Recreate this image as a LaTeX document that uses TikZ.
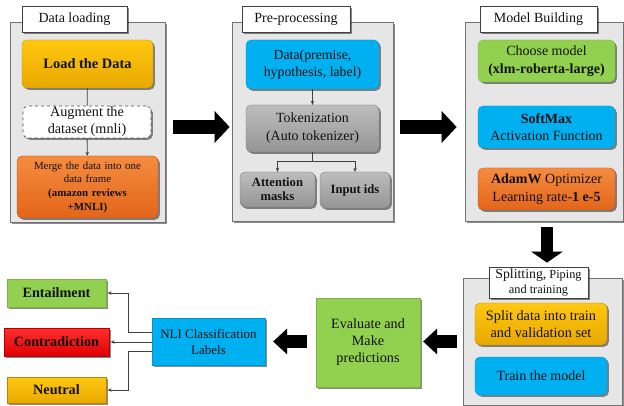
\documentclass[tikz,border=0pt]{standalone}
\usepackage{fontspec}
\setmainfont{Liberation Serif}
\usetikzlibrary{shadows,arrows.meta,calc}
\definecolor{cyel}{HTML}{FFC810}
\definecolor{cyeld}{HTML}{E8A800}
\definecolor{corg}{HTML}{F58C40}
\definecolor{corgd}{HTML}{E2651A}
\definecolor{cblu}{HTML}{00B0F0}
\definecolor{cgrn}{HTML}{92D050}
\definecolor{cgry}{HTML}{BDBDBD}
\definecolor{cgryd}{HTML}{959595}
\definecolor{cred}{HTML}{FF3030}
\definecolor{credd}{HTML}{E00000}
\definecolor{cpan}{HTML}{E6E6E6}
\definecolor{ctxt}{HTML}{111111}
\newcommand{\fs}[2]{\fontsize{#1}{#2}\selectfont}
\begin{document}
\begin{tikzpicture}[x=1pt,y=-1pt,
  sh/.style={drop shadow={shadow xshift=1.8pt,shadow yshift=-1.8pt,opacity=0.45,fill=black}},
  panel/.style={draw=black!55, line width=0.8pt, fill=cpan, sh, inner sep=0pt},
  tab/.style={draw=black!75, line width=0.8pt, fill=white, sh, inner sep=0pt, align=center, text=ctxt},
  rbox/.style={rounded corners=5pt, sh, inner sep=1pt, align=center, text=ctxt},
  sbox/.style={sh, inner sep=1pt, align=center, text=ctxt},
  yelbox/.style={top color=cyel, bottom color=cyeld, draw=cyeld!80!black, line width=0.3pt},
  orgbox/.style={top color=corg, bottom color=corgd, draw=corgd!80!black, line width=0.3pt},
  blubox/.style={fill=cblu, draw=cblu!85!black, line width=0.3pt},
  grnbox/.style={fill=cgrn, draw=cgrn!85!black, line width=0.3pt},
  grybox/.style={top color=cgry, bottom color=cgryd, draw=cgryd!80!black, line width=0.3pt},
  redbox/.style={top color=cred, bottom color=credd, draw=credd!80!black, line width=0.3pt},
  conn/.style={draw=black!75, line width=0.8pt},
  carr/.style={conn, -{Stealth[length=4pt,width=3.5pt]}},
  bigarr/.style={draw=black, line width=14pt, -{Triangle[length=15pt,width=31pt]}},
  bigarrsm/.style={draw=black, line width=12.5pt, -{Triangle[length=14pt,width=25pt]}},
  bigsh/.style={draw=black!35, opacity=0.6}
]
\useasboundingbox (0,0) rectangle (624,406);

% ---------- panels ----------
\node[panel, minimum width=155pt, minimum height=200pt] (pan1) at (87.5,122) {};
\node[panel, minimum width=161pt, minimum height=199pt] (pan2) at (312.5,121.5) {};
\node[panel, minimum width=158pt, minimum height=199pt] (pan3) at (544,121.5) {};
\node[panel, minimum width=159pt, minimum height=127pt] (pan4) at (542.5,341.5) {};

\node[tab, minimum width=105pt, minimum height=26pt, font=\fs{14}{15}] (tab1) at (74.5,19) {Data loading};
\node[tab, minimum width=108pt, minimum height=26pt, font=\fs{14}{15}] (tab2) at (296,19) {Pre-processing};
\node[tab, minimum width=117pt, minimum height=26pt, font=\fs{14}{15}] (tab3) at (538.5,19) {Model Building};
\node[tab, minimum width=99pt, minimum height=31pt, font=\fs{12.3}{15.5}] (tab4) at (538.5,282.5) {{\fs{13.8}{15.5}Splitting,} Piping\\ and training};

% ---------- data loading ----------
\node[rbox, yelbox, minimum width=131pt, minimum height=48pt, font=\fs{14.4}{16}\bfseries] (load) at (87.5,64) {Load the Data};
\node[rbox, draw=black!70, dashed, line width=0.6pt, fill=white, minimum width=128pt, minimum height=32pt, drop shadow={opacity=0}, font=\fs{14.2}{17}] (aug) at (87,122) {Augment the\\ dataset (mnli)};
\node[rbox, orgbox, minimum width=141pt, minimum height=62pt, text width=137pt, font=\fs{10.9}{13.7}] (merge) at (87.5,187) {Merge the data into one\\ data frame\\ \textbf{(amazon reviews}\\ \textbf{+MNLI)}};
\draw[conn] (load) -- (aug);
\draw[carr] (aug) -- (merge);

% ---------- pre-processing ----------
\node[rbox, blubox, minimum width=133pt, minimum height=49pt, font=\fs{13.8}{17}] (data) at (312.5,64.5) {Data(premise,\\ hypothesis, label)};
\node[rbox, grybox, minimum width=133pt, minimum height=47pt, font=\fs{14}{18}] (tok) at (312.5,128.5) {Tokenization\\ (Auto tokenizer)};
\node[rbox, grybox, minimum width=75pt, minimum height=35pt, font=\fs{12.6}{14}\bfseries] (att) at (277.5,189.5) {Attention\\ masks};
\node[rbox, grybox, minimum width=70pt, minimum height=36pt, font=\fs{12.6}{14}\bfseries] (inp) at (355,190) {Input ids};
\draw[carr] (data.south -| tok.north) -- (tok.north);
\coordinate (split) at ($(tok.south)+(0,9)$);
\draw[conn] (tok.south) -- (split);
\draw[carr] (split) -| (att.north);
\draw[carr] (split) -| (inp.north);

% ---------- model building ----------
\node[rbox, grnbox, minimum width=137pt, minimum height=42pt, font=\fs{14}{18}] (choose) at (546.5,61) {Choose model\\ \textbf{(xlm-roberta-large)}};
\node[rbox, blubox, minimum width=137pt, minimum height=42pt, font=\fs{14}{17.5}] (soft) at (546.5,127) {\textbf{SoftMax}\\ Activation Function};
\node[rbox, orgbox, minimum width=137pt, minimum height=42pt, font=\fs{14}{17.5}] (adam) at (546.5,189) {\textbf{AdamW} Optimizer\\ Learning rate-\textbf{1 e-5}};

% ---------- splitting ----------
\node[rbox, yelbox, minimum width=132pt, minimum height=42pt, font=\fs{14.3}{16.5}] (splitd) at (541,324) {Split data into train\\ and validation set};
\node[rbox, blubox, minimum width=132pt, minimum height=38pt, font=\fs{14}{15}] (train) at (541,376) {Train the model};

% ---------- bottom row ----------
\node[sbox, grnbox, minimum width=104pt, minimum height=89pt, font=\fs{14.2}{17}] (eval) at (368,342.5) {Evaluate and\\ Make\\ predictions};
\node[sbox, blubox, minimum width=113pt, minimum height=47pt, font=\fs{13}{16}] (nli) at (208.5,341.5) {NLI Classification\\ Labels};
\node[sbox, grnbox, minimum width=99pt, minimum height=28pt, font=\fs{14.2}{15}\bfseries] (ent) at (56.5,293) {Entailment};
\node[sbox, redbox, minimum width=105pt, minimum height=28pt, font=\fs{14.2}{15}\bfseries] (con) at (56.5,342) {Contradiction};
\node[sbox, yelbox, minimum width=99pt, minimum height=26pt, font=\fs{14.2}{15}\bfseries] (neu) at (56.5,390) {Neutral};

\coordinate (bx) at (128,0);
\draw[carr, shorten >=1.5pt] ($(nli.west)+(0,-9.5)$) -| (bx |- ent.east) -- (ent.east);
\draw[carr, shorten >=1.5pt] (nli.west |- con.east) -- (con.east);
\draw[carr, shorten >=1.5pt] ($(nli.west)+(0,9.5)$) -| (bx |- neu.east) -- (neu.east);

% ---------- block arrows ----------
\coordinate (ay) at (0,127);
\coordinate (ax) at (547,0);
\coordinate (ly) at (0,341.5);
\begin{scope}[shift={(1.5pt,-1.5pt)}]
\draw[bigarr, bigsh, shorten <=8pt, shorten >=2pt] (pan1.east |- ay) -- (pan2.west |- ay);
\draw[bigarr, bigsh, shorten <=7pt, shorten >=8pt] (pan2.east |- ay) -- (pan3.west |- ay);
\draw[bigarrsm, bigsh, line width=12pt, -{Triangle[length=11pt,width=31pt]}, shorten <=6pt, shorten >=4pt] (pan3.south -| ax) -- (tab4.north -| ax);
\draw[bigarrsm, bigsh, shorten <=6pt, shorten >=3pt] (pan4.west |- ly) -- (eval.east |- ly);
\draw[bigarrsm, bigsh, shorten <=9pt, shorten >=8pt] (eval.west |- ly) -- (nli.east |- ly);
\end{scope}
\draw[bigarr, shorten <=8pt, shorten >=2pt] (pan1.east |- ay) -- (pan2.west |- ay);
\draw[bigarr, shorten <=7pt, shorten >=8pt] (pan2.east |- ay) -- (pan3.west |- ay);
\draw[bigarrsm, line width=12pt, -{Triangle[length=11pt,width=31pt]}, shorten <=6pt, shorten >=4pt] (pan3.south -| ax) -- (tab4.north -| ax);
\draw[bigarrsm, shorten <=6pt, shorten >=3pt] (pan4.west |- ly) -- (eval.east |- ly);
\draw[bigarrsm, shorten <=9pt, shorten >=8pt] (eval.west |- ly) -- (nli.east |- ly);
\end{tikzpicture}
\end{document}
